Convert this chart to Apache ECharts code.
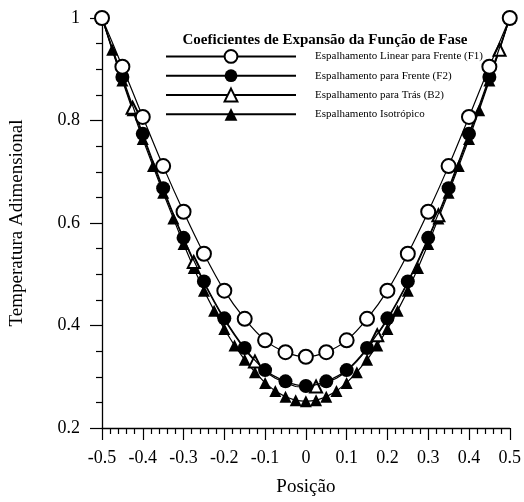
<!DOCTYPE html>
<html>
<head>
<meta charset="utf-8">
<script src="https://cdn.jsdelivr.net/npm/echarts@6/dist/echarts.min.js"></script>
<style>
  html, body { margin: 0; padding: 0; background: #fff; }
  #chart { width: 524px; height: 502px; }
</style>
</head>
<body>
<div id="chart"></div>
<script>
// posições (passo 0.05 e 0.025)
const xCoarse = [-0.5, -0.45, -0.4, -0.35, -0.3, -0.25, -0.2, -0.15, -0.1, -0.05, 0,
  0.05, 0.1, 0.15, 0.2, 0.25, 0.3, 0.35, 0.4, 0.45, 0.5]
const xFine = [-0.5, -0.475, -0.45, -0.425, -0.4, -0.375, -0.35, -0.325, -0.3, -0.275, -0.25,
  -0.225, -0.2, -0.175, -0.15, -0.125, -0.1, -0.075, -0.05, -0.025, 0,
  0.025, 0.05, 0.075, 0.1, 0.125, 0.15, 0.175, 0.2, 0.225, 0.25,
  0.275, 0.3, 0.325, 0.35, 0.375, 0.4, 0.425, 0.45, 0.475, 0.5]

// temperatura adimensional
const linearF1 = [1.000, 0.905, 0.807, 0.711, 0.622, 0.540, 0.468, 0.413, 0.371, 0.348, 0.339,
  0.348, 0.371, 0.413, 0.468, 0.540, 0.622, 0.711, 0.807, 0.905, 1.000]
const frenteF2 = [1.000, 0.885, 0.774, 0.668, 0.571, 0.486, 0.414, 0.356, 0.313, 0.291, 0.282,
  0.291, 0.313, 0.356, 0.414, 0.486, 0.571, 0.668, 0.774, 0.885, 1.000]
const trasB2 = [1.000, 0.938, 0.881, 0.825, 0.770, 0.716, 0.664, 0.615, 0.568, 0.524, 0.483,
  0.446, 0.411, 0.381, 0.353, 0.330, 0.310, 0.297, 0.288, 0.281, 0.279,
  0.281, 0.288, 0.297, 0.310, 0.330, 0.353, 0.381, 0.411, 0.446, 0.483,
  0.524, 0.568, 0.615, 0.664, 0.716, 0.770, 0.825, 0.881, 0.938, 1.000]
const isotropico = [1.000, 0.938, 0.878, 0.820, 0.764, 0.711, 0.659, 0.609, 0.559, 0.512, 0.468,
  0.429, 0.393, 0.361, 0.333, 0.309, 0.288, 0.272, 0.261, 0.254, 0.252,
  0.254, 0.261, 0.272, 0.288, 0.309, 0.333, 0.361, 0.393, 0.429, 0.468,
  0.512, 0.559, 0.609, 0.659, 0.711, 0.764, 0.820, 0.878, 0.938, 1.000]
// onde a curva B2 mostra marcador
const b2Marks = [-0.425, -0.275, -0.125, 0.025, 0.175, 0.325, 0.475]

const nomes = [
  'Espalhamento Linear para Frente (F1)',
  'Espalhamento para Frente (F2)',
  'Espalhamento para Trás (B2)',
  'Espalhamento Isotrópico'
]

const serif = '"Liberation Serif", "DejaVu Serif", serif'

const pares = (xs, ys) => xs.map((x, i) => [x, ys[i]])

const chart = echarts.init(document.getElementById('chart'))

const lineStyle = { color: '#000', width: 1.2 }

const option = {
  animation: false,
  backgroundColor: '#fff',
  textStyle: { fontFamily: serif, color: '#000' },
  grid: { left: 102, right: 13, top: 18, bottom: 72 },
  graphic: [
    {
      type: 'text',
      x: 325,
      y: 40,
      style: {
        text: 'Coeficientes de Expansão da Função de Fase',
        font: 'bold 15px ' + serif,
        fill: '#000',
        align: 'center',
        verticalAlign: 'middle'
      }
    }
  ],
  legend: {
    orient: 'vertical',
    left: 165,
    top: 49,
    padding: 0,
    itemWidth: 130,
    itemHeight: 16,
    itemGap: 5.5,
    data: nomes,
    textStyle: { fontFamily: serif, fontSize: 11, color: '#000', padding: [0, 0, 0, 14] }
  },
  xAxis: {
    type: 'value',
    min: -0.5,
    max: 0.5,
    interval: 0.1,
    name: 'Posição',
    nameLocation: 'middle',
    nameGap: 50,
    nameTextStyle: { fontFamily: serif, fontSize: 19, color: '#000' },
    axisLine: { onZero: false, lineStyle: { color: '#000', width: 1.3 } },
    axisTick: { inside: false, length: 12, lineStyle: { color: '#000', width: 1.2 } },
    minorTick: { show: true, splitNumber: 5, length: 6, lineStyle: { color: '#000', width: 1.2 } },
    axisLabel: { margin: 21, fontFamily: serif, fontSize: 18, color: '#000' },
    splitLine: { show: false }
  },
  yAxis: {
    type: 'value',
    min: 0.2,
    max: 1,
    interval: 0.2,
    name: 'Temperatura Adimensional',
    nameLocation: 'middle',
    nameGap: 75,
    nameTextStyle: { fontFamily: serif, fontSize: 19, color: '#000' },
    axisLine: { show: true, onZero: false, lineStyle: { color: '#000', width: 1.3 } },
    axisTick: { show: true, inside: false, length: 12, lineStyle: { color: '#000', width: 1.2 } },
    minorTick: { show: true, splitNumber: 4, length: 6, lineStyle: { color: '#000', width: 1.2 } },
    axisLabel: { margin: 22, fontFamily: serif, fontSize: 18, color: '#000' },
    splitLine: { show: false }
  },
  series: [
    {
      name: nomes[3],
      type: 'line',
      data: pares(xFine, isotropico),
      symbol: 'triangle',
      symbolSize: 12,
      lineStyle,
      itemStyle: { color: '#000' },
      z: 2
    },
    {
      name: nomes[2],
      type: 'line',
      data: xFine.map((x, i) => ({
        value: [x, trasB2[i]],
        symbol: b2Marks.some(m => Math.abs(m - x) < 1e-6) ? 'emptyTriangle' : 'none'
      })),
      symbol: 'emptyTriangle',
      symbolSize: 12,
      lineStyle,
      itemStyle: { color: '#000', borderWidth: 1.5 },
      z: 3
    },
    {
      name: nomes[1],
      type: 'line',
      data: pares(xCoarse, frenteF2),
      smooth: 0.3,
      symbol: 'circle',
      symbolSize: 14,
      lineStyle,
      itemStyle: { color: '#000' },
      z: 4
    },
    {
      name: nomes[0],
      type: 'line',
      data: pares(xCoarse, linearF1),
      smooth: 0.3,
      symbol: 'emptyCircle',
      symbolSize: 14,
      lineStyle,
      itemStyle: { color: '#000', borderWidth: 1.5 },
      z: 5
    }
  ]
}

chart.setOption(option)
</script>
</body>
</html>
